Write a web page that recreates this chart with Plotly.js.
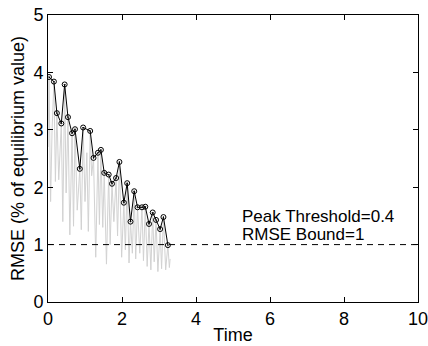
<!DOCTYPE html>
<html>
<head>
<meta charset="utf-8">
<script src="https://cdn.plot.ly/plotly-3.0.1.min.js"></script>
<style>html,body{margin:0;padding:0;background:#fff;}#chart{width:428px;height:346px;}</style>
</head>
<body>
<div id="chart"></div>
<script>
// Raw RMSE signal (gray)
const rmseTime = [0.00,0.027,0.07,0.11,0.16,0.20,0.24,0.29,0.36,0.40,0.45,0.49,0.54,0.59,0.65,0.69,0.73,0.79,0.86,0.90,0.95,1.00,1.05,1.09,1.14,1.18,1.23,1.29,1.35,1.39,1.43,1.48,1.52,1.58,1.64,1.68,1.73,1.78,1.84,1.88,1.93,1.99,2.05,2.09,2.14,2.19,2.23,2.28,2.33,2.37,2.42,2.48,2.54,2.58,2.63,2.68,2.73,2.78,2.83,2.87,2.92,2.97,3.03,3.07,3.12,3.18,3.24,3.28,3.30];
const rmseValue = [2.70,3.92,1.75,3.00,3.84,2.10,3.29,2.13,3.11,1.40,3.79,1.90,3.22,1.17,2.94,1.32,3.01,1.60,2.32,1.26,3.04,1.75,2.60,1.23,2.98,2.20,2.51,0.78,2.60,1.35,2.65,1.30,2.25,0.66,2.22,1.00,2.06,1.40,2.16,1.15,2.44,0.78,1.73,0.91,2.07,0.68,1.40,0.85,1.93,0.75,1.65,0.85,1.65,0.72,1.66,0.62,1.36,0.56,1.56,0.70,1.43,0.53,1.27,0.58,1.48,0.56,0.99,0.60,0.75];
// Detected peaks (black with circles)
const peakTime = [0.027,0.16,0.24,0.36,0.45,0.54,0.65,0.73,0.86,0.95,1.14,1.23,1.35,1.43,1.52,1.64,1.73,1.84,1.93,2.05,2.14,2.23,2.33,2.42,2.54,2.63,2.73,2.83,2.92,3.03,3.12,3.24];
const peakRMSE = [3.92,3.84,3.29,3.11,3.79,3.22,2.94,3.01,2.32,3.04,2.98,2.51,2.60,2.65,2.25,2.22,2.06,2.16,2.44,1.73,2.07,1.40,1.93,1.65,1.65,1.66,1.36,1.56,1.43,1.27,1.48,0.99];
const rmseBound = 1;
const xRange = [0, 10];
const yRange = [0, 5];
const xTicks = [0, 2, 4, 6, 8, 10];
const yTicks = [0, 1, 2, 3, 4, 5];
const labels = ["Peak Threshold=0.4", "RMSE Bound=1"];

const font = "Liberation Sans, Arial, Helvetica, sans-serif";

const traces = [
  {x: rmseTime, y: rmseValue, mode: "lines", type: "scatter",
   line: {color: "#d2d2d2", width: 1}, hoverinfo: "skip"},
  {x: peakTime, y: peakRMSE, mode: "lines+markers", type: "scatter",
   line: {color: "#000", width: 1},
   marker: {symbol: "circle-open-dot", size: 5, color: "#000", line: {width: 1, color: "#000"}}},
  {x: xRange, y: [rmseBound, rmseBound], mode: "lines", type: "scatter",
   line: {color: "#000", width: 1, dash: "6px,5px"}}
];

const axisCommon = {
  showgrid: false, zeroline: false, showline: true, linecolor: "#000", linewidth: 1,
  mirror: "ticks", ticks: "inside", ticklen: 5, tickcolor: "#000", tickwidth: 1,
  ticklabeloverflow: "allow",
  tickfont: {family: font, size: 18, color: "#000"}
};

const layout = {
  width: 428, height: 346,
  margin: {l: 48, r: 10, t: 15, b: 44},
  paper_bgcolor: "#fff", plot_bgcolor: "#fff",
  showlegend: false,
  font: {family: font, color: "#000"},
  xaxis: Object.assign({}, axisCommon, {
    range: xRange, tickvals: xTicks, ticktext: xTicks.map(String),
    title: {text: "Time", font: {family: font, size: 18, color: "#000"}, standoff: 0}
  }),
  yaxis: Object.assign({}, axisCommon, {
    range: yRange, tickvals: yTicks, ticktext: yTicks.map(String),
    title: {text: "RMSE (% of equilibrium value)", font: {family: font, size: 18, color: "#000"}, standoff: 4}
  }),
  annotations: [
    {x: 5.2, y: 1.49, xref: "x", yref: "y", text: labels[0], showarrow: false, xanchor: "left", yanchor: "middle",
     font: {family: font, size: 17, color: "#000"}},
    {x: 5.2, y: 1.18, xref: "x", yref: "y", text: labels[1], showarrow: false, xanchor: "left", yanchor: "middle",
     font: {family: font, size: 17, color: "#000"}}
  ]
};

Plotly.newPlot("chart", traces, layout, {displayModeBar: false, staticPlot: true});
</script>
</body>
</html>
